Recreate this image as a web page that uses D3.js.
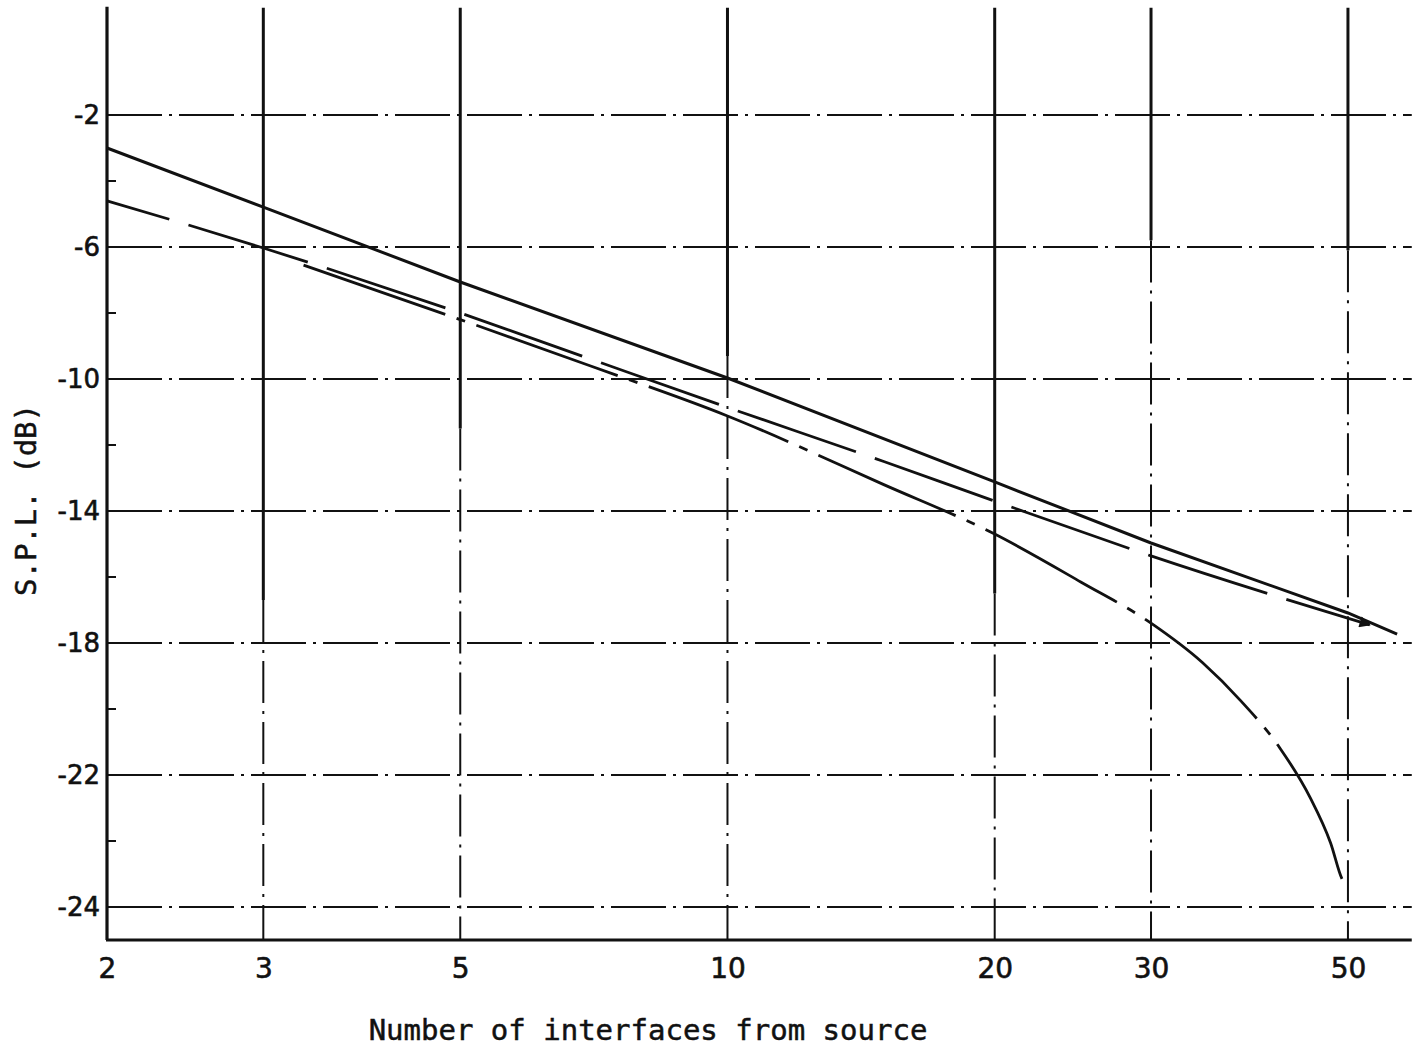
<!DOCTYPE html>
<html>
<head>
<meta charset="utf-8">
<script src="https://cdn.jsdelivr.net/npm/d3@7/dist/d3.min.js"></script>
<style>
  html, body { margin: 0; padding: 0; background: #fff; }
  svg { display: block; }
  .tick-x text { font-family: "DejaVu Sans", sans-serif; font-size: 28px; fill: #111; stroke: #111; stroke-width: 0.6px; }
  .tick-y text { font-family: "DejaVu Sans", sans-serif; font-size: 26px; fill: #111; stroke: #111; stroke-width: 0.6px; }
  .title { font-family: "DejaVu Sans Mono", monospace; font-size: 29px; fill: #111; stroke: #111; stroke-width: 0.5px; }
</style>
</head>
<body>
<svg id="chart" width="1423" height="1046"></svg>
<script>
// Axis ticks
const xTickValues = [2, 3, 5, 10, 20, 30, 50];
const xTickLabels = ["2", "3", "5", "10", "20", "30", "50"];
const yGridValues = [-2, -6, -10, -14, -18, -22, -26];
const yTickLabels = ["-2", "-6", "-10", "-14", "-18", "-22", "-24"];
const yMinorValues = [-4, -8, -12, -16, -20, -24];

// Series: number of interfaces vs S.P.L. (dB)
const solidN   = [2, 3, 5, 10, 20, 30, 50, 56.8];
const solidDb  = [-3.0, -4.79, -7.06, -9.97, -13.12, -14.97, -17.09, -17.73];

const dashN    = [2, 3, 5, 7, 10, 15, 20, 30, 52.9];
const dashDb   = [-4.6, -6.03, -8.0, -9.39, -10.86, -12.5, -13.7, -15.36, -17.45];

const dotDashN  = [3.33, 5, 7, 10, 15, 20, 25, 30, 34.3, 37.8, 41.9, 45.3, 47.8, 49.3, 50.2];
const dotDashDb = [-6.55, -8.2, -9.6, -11.12, -13.2, -14.7, -16.15, -17.4, -18.6, -19.73, -21.18, -22.67, -24.06, -25.18, -25.4];

const svg = d3.select("#chart");
const ink = "#111";

const x = d3.scaleLog().domain([2, 59]).range([107, 107 + Math.log10(59 / 2) * 887.7]);
const y = d3.scaleLinear().domain([-27, 1.5]).range([940, -0.5]);
const yTop = y(1.25);
const xRight = x(59);

// Vertical grid: solid upper part, chain-dotted below
const vSolidTo = {3: -16.7, 5: -11.5, 10: -9.3, 20: -16.5, 30: -5.8, 50: -6.1};
const vGrid = svg.append("g");
xTickValues.slice(1).forEach(v => {
  vGrid.append("line")
    .attr("x1", x(v)).attr("x2", x(v))
    .attr("y1", yTop).attr("y2", y(vSolidTo[v]))
    .attr("stroke", ink).attr("stroke-width", 3);
  vGrid.append("line")
    .attr("x1", x(v)).attr("x2", x(v))
    .attr("y1", y(vSolidTo[v])).attr("y2", y(-27))
    .attr("stroke", ink).attr("stroke-width", 2)
    .attr("stroke-dasharray", "42,8,3,8");
});

// Horizontal grid, chain-dotted
svg.append("g").selectAll("line").data(yGridValues).join("line")
  .attr("x1", x(2)).attr("x2", xRight)
  .attr("y1", d => y(d)).attr("y2", d => y(d))
  .attr("stroke", ink).attr("stroke-width", 1.8)
  .attr("stroke-dasharray", "55,7,3,7");

// Minor ticks along the left axis
svg.append("g").selectAll("line").data(yMinorValues).join("line")
  .attr("x1", x(2)).attr("x2", x(2) + 9)
  .attr("y1", d => y(d)).attr("y2", d => y(d))
  .attr("stroke", ink).attr("stroke-width", 2);

// Axis frame
svg.append("line").attr("x1", x(2)).attr("x2", x(2)).attr("y1", yTop - 1).attr("y2", y(-27))
  .attr("stroke", ink).attr("stroke-width", 3.2);
svg.append("line").attr("x1", x(2) - 1).attr("x2", xRight).attr("y1", y(-27)).attr("y2", y(-27))
  .attr("stroke", ink).attr("stroke-width", 3.2);

// Tick labels through d3 axes
const xAxis = d3.axisBottom(x).tickValues(xTickValues)
  .tickFormat((d, i) => xTickLabels[i]).tickSize(0).tickPadding(18);
svg.append("g").attr("class", "tick-x").attr("transform", `translate(0,${y(-27)})`)
  .call(xAxis).call(g => g.select(".domain").remove());

const yAxis = d3.axisLeft(y).tickValues(yGridValues)
  .tickFormat((d, i) => yTickLabels[i]).tickSize(0).tickPadding(7);
svg.append("g").attr("class", "tick-y").attr("transform", `translate(${x(2)},0)`)
  .call(yAxis).call(g => g.select(".domain").remove());
svg.selectAll(".tick-x text, .tick-y text").attr("fill", ink);

// Titles
svg.append("text").attr("class", "title")
  .attr("x", 648).attr("y", 1040).attr("text-anchor", "middle")
  .text("Number of interfaces from source");
svg.append("text").attr("class", "title")
  .attr("transform", "translate(36,500) rotate(-90)").attr("text-anchor", "middle")
  .text("S.P.L. (dB)");

// Arrow marker for the dashed curve end
svg.append("defs").append("marker")
  .attr("id", "arrow").attr("viewBox", "0 0 10 10")
  .attr("refX", 9).attr("refY", 5)
  .attr("markerWidth", 5).attr("markerHeight", 4)
  .attr("orient", "auto")
  .append("path").attr("d", "M0,0 L10,5 L0,10 Z").attr("fill", ink);

const line = d3.line().x(d => x(d[0])).y(d => y(d[1]));
const smooth = d3.line().x(d => x(d[0])).y(d => y(d[1])).curve(d3.curveMonotoneX);

svg.append("path")
  .datum(d3.zip(solidN, solidDb))
  .attr("d", line)
  .attr("fill", "none").attr("stroke", ink).attr("stroke-width", 3);

svg.append("path")
  .datum(d3.zip(dashN, dashDb))
  .attr("d", smooth)
  .attr("fill", "none").attr("stroke", ink).attr("stroke-width", 2.8)
  .attr("stroke-dasharray", "125,20")
  .attr("stroke-dashoffset", 60)
  .attr("marker-end", "url(#arrow)");

svg.append("path")
  .datum(d3.zip(dotDashN, dotDashDb))
  .attr("d", smooth)
  .attr("fill", "none").attr("stroke", ink).attr("stroke-width", 2.8)
  .attr("stroke-dasharray", "150,12,9,12");
</script>
</body>
</html>
